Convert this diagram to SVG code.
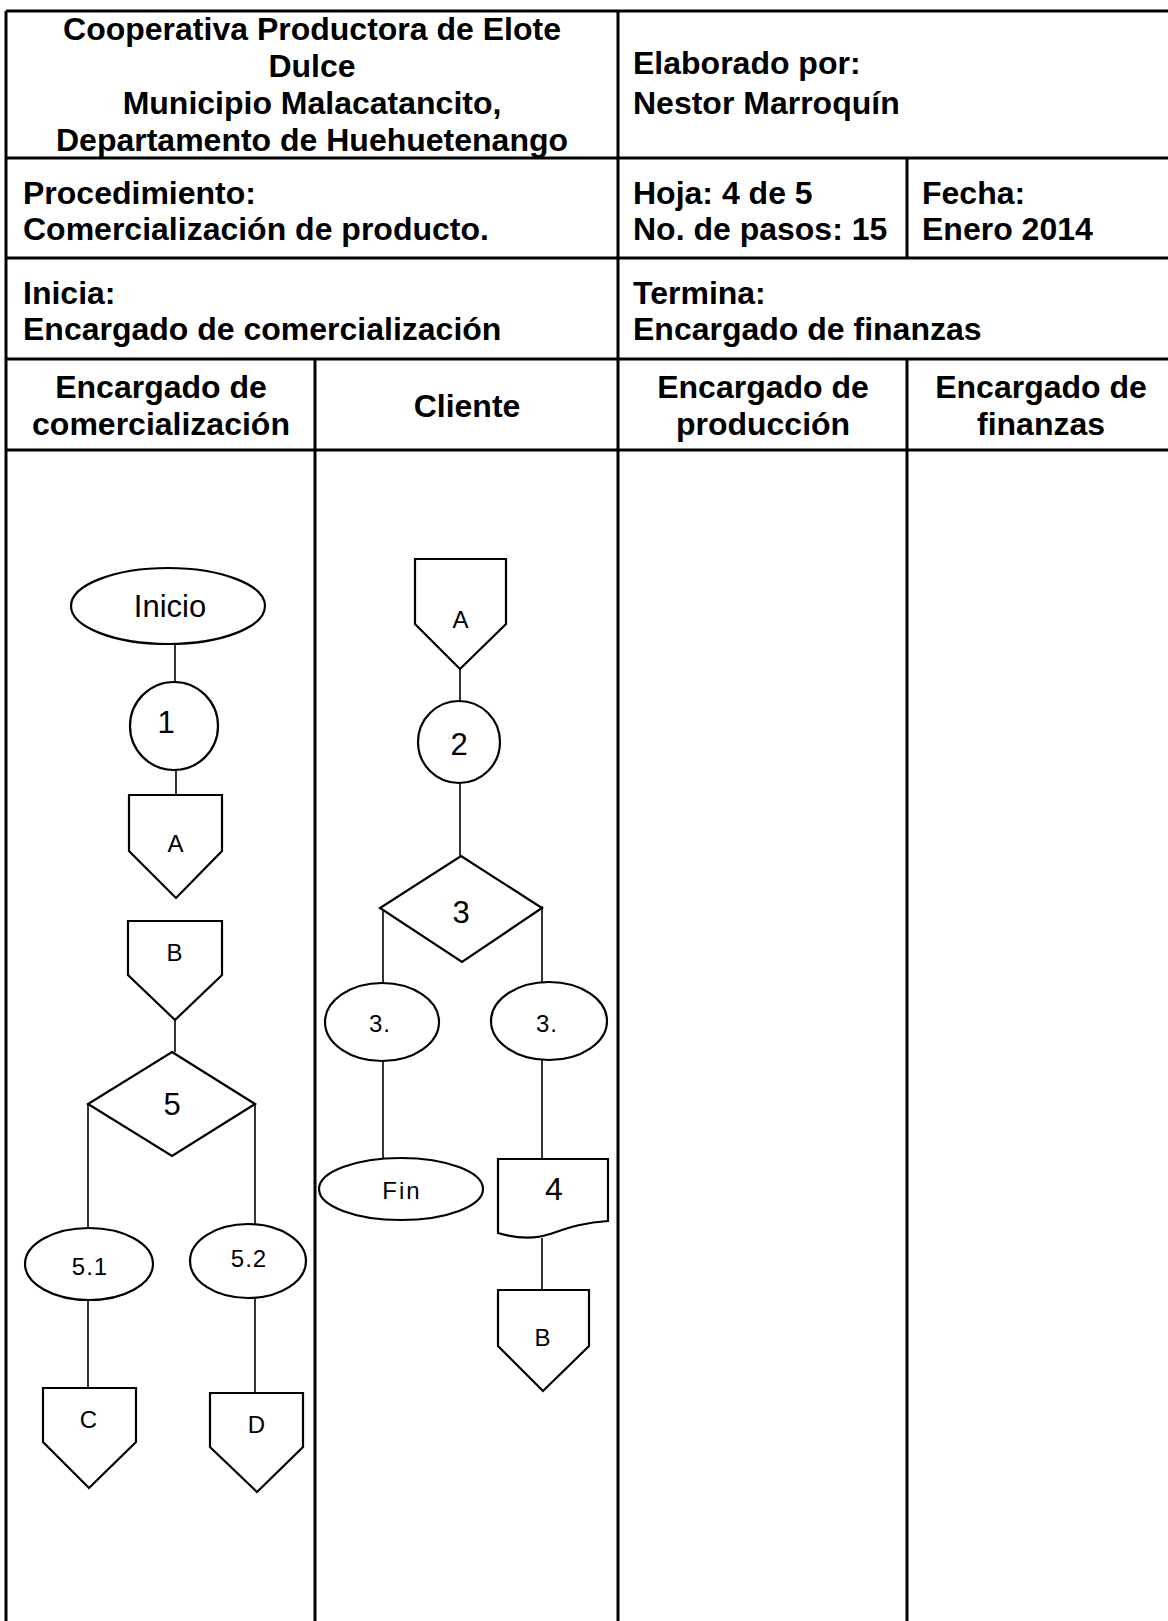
<svg xmlns="http://www.w3.org/2000/svg" width="1168" height="1621" viewBox="0 0 1168 1621">
  <style>
    .grid { stroke: #000; stroke-width: 3; fill: none; }
    .hd { font-family: "Liberation Sans", Arial, sans-serif; font-weight: bold; font-size: 32px; fill: #000; }
    .mid { text-anchor: middle; }
    .shape { fill: #fff; stroke: #000; stroke-width: 2.2; }
    .edge { stroke: #000; stroke-width: 1.6; fill: none; }
    .big { font-family: "Liberation Sans", Arial, sans-serif; font-size: 31px; fill: #000; text-anchor: middle; dominant-baseline: central; }
    .small { font-family: "Liberation Sans", Arial, sans-serif; font-size: 24px; fill: #000; text-anchor: middle; dominant-baseline: central; letter-spacing: 1px; }
  </style>
  <rect width="1168" height="1621" fill="#fff"/>

  <!-- form grid -->
  <g id="grid" class="grid">
    <line x1="6" y1="11" x2="1168" y2="11"/>
    <line x1="6" y1="11" x2="6" y2="1621"/>
    <line x1="618" y1="11" x2="618" y2="1621"/>
    <line x1="6" y1="158" x2="1168" y2="158"/>
    <line x1="6" y1="258" x2="1168" y2="258"/>
    <line x1="6" y1="359" x2="1168" y2="359"/>
    <line x1="6" y1="450" x2="1168" y2="450"/>
    <line x1="907" y1="158" x2="907" y2="258"/>
    <line x1="907" y1="359" x2="907" y2="1621"/>
    <line x1="315" y1="359" x2="315" y2="1621"/>
  </g>

  <!-- header texts -->
  <g id="header">
    <text class="hd mid" x="312" y="40">Cooperativa Productora de Elote</text>
    <text class="hd mid" x="312" y="77">Dulce</text>
    <text class="hd mid" x="312" y="114">Municipio Malacatancito,</text>
    <text class="hd mid" x="312" y="151">Departamento de Huehuetenango</text>
    <text class="hd" x="633" y="74">Elaborado por:</text>
    <text class="hd" x="633" y="114">Nestor Marroquín</text>
    <text class="hd" x="23" y="204">Procedimiento:</text>
    <text class="hd" x="23" y="240">Comercialización de producto.</text>
    <text class="hd" x="633" y="204">Hoja: 4 de 5</text>
    <text class="hd" x="633" y="240">No. de pasos: 15</text>
    <text class="hd" x="922" y="204">Fecha:</text>
    <text class="hd" x="922" y="240">Enero 2014</text>
    <text class="hd" x="23" y="304">Inicia:</text>
    <text class="hd" x="23" y="340">Encargado de comercialización</text>
    <text class="hd" x="633" y="304">Termina:</text>
    <text class="hd" x="633" y="340">Encargado de finanzas</text>
  </g>

  <!-- lane headers -->
  <g id="lanes">
    <text class="hd mid" x="161" y="398">Encargado de</text>
    <text class="hd mid" x="161" y="435">comercialización</text>
    <text class="hd mid" x="467" y="417">Cliente</text>
    <text class="hd mid" x="763" y="398">Encargado de</text>
    <text class="hd mid" x="763" y="435">producción</text>
    <text class="hd mid" x="1041" y="398">Encargado de</text>
    <text class="hd mid" x="1041" y="435">finanzas</text>
  </g>

  <!-- connectors -->
  <g id="connectors" class="edge">
    <line x1="175" y1="644" x2="175" y2="688"/>
    <line x1="176" y1="762" x2="176" y2="795"/>
    <line x1="175" y1="1020" x2="175" y2="1052"/>
    <line x1="88" y1="1104" x2="88" y2="1228"/>
    <line x1="255" y1="1104" x2="255" y2="1224"/>
    <line x1="88" y1="1300" x2="88" y2="1388"/>
    <line x1="255" y1="1298" x2="255" y2="1393"/>
    <line x1="460" y1="669" x2="460" y2="701"/>
    <line x1="460" y1="783" x2="460" y2="856"/>
    <line x1="383" y1="908" x2="383" y2="983"/>
    <line x1="542" y1="906" x2="542" y2="983"/>
    <line x1="383" y1="1061" x2="383" y2="1158"/>
    <line x1="542" y1="1060" x2="542" y2="1159"/>
    <line x1="542" y1="1238" x2="542" y2="1290"/>
  </g>

  <!-- Encargado de comercializacion lane -->
  <g id="n-inicio">
    <ellipse class="shape" cx="168" cy="606" rx="97" ry="38"/>
    <text class="big" x="170" y="606">Inicio</text>
  </g>
  <g id="n-1">
    <circle class="shape" cx="174" cy="726" r="44"/>
    <text class="big" x="166" y="722">1</text>
  </g>
  <g id="n-offA">
    <path class="shape" d="M129,795 H222 V851 L176,898 L129,851 Z"/>
    <text class="small" x="176" y="843">A</text>
  </g>
  <g id="n-offB">
    <path class="shape" d="M128,921 H222 V975 L175,1020 L128,975 Z"/>
    <text class="small" x="175" y="952">B</text>
  </g>
  <g id="n-5">
    <path class="shape" d="M172,1052 L255,1104 L172,1156 L88,1104 Z"/>
    <text class="big" x="172" y="1104">5</text>
  </g>
  <g id="n-5-1">
    <ellipse class="shape" cx="89" cy="1264" rx="64" ry="36"/>
    <text class="small" x="90" y="1266">5.1</text>
  </g>
  <g id="n-5-2">
    <ellipse class="shape" cx="248" cy="1261" rx="58" ry="37"/>
    <text class="small" x="249" y="1258">5.2</text>
  </g>
  <g id="n-offC">
    <path class="shape" d="M43,1388 H136 V1442 L89,1488 L43,1442 Z"/>
    <text class="small" x="89" y="1419">C</text>
  </g>
  <g id="n-offD">
    <path class="shape" d="M210,1393 H303 V1447 L257,1492 L210,1447 Z"/>
    <text class="small" x="257" y="1424">D</text>
  </g>

  <!-- Cliente lane -->
  <g id="n-offA2">
    <path class="shape" d="M415,559 H506 V624 L460,669 L415,624 Z"/>
    <text class="small" x="461" y="619">A</text>
  </g>
  <g id="n-2">
    <circle class="shape" cx="459" cy="742" r="41"/>
    <text class="big" x="459" y="744">2</text>
  </g>
  <g id="n-3">
    <path class="shape" d="M461,856 L542,908 L462,962 L380,908 Z"/>
    <text class="big" x="461" y="912">3</text>
  </g>
  <g id="n-3a">
    <ellipse class="shape" cx="382" cy="1022" rx="57" ry="39"/>
    <text class="small" x="380" y="1023">3.</text>
  </g>
  <g id="n-3b">
    <ellipse class="shape" cx="549" cy="1021" rx="58" ry="39"/>
    <text class="small" x="547" y="1023">3.</text>
  </g>
  <g id="n-fin">
    <ellipse class="shape" cx="401" cy="1189" rx="82" ry="31"/>
    <text class="small" x="402" y="1190" style="letter-spacing:2px">Fin</text>
  </g>
  <g id="n-4">
    <path class="shape" d="M498,1159 H608 V1221 C585,1222 568,1228 550,1234 C532,1240 515,1238 498,1233 Z"/>
    <text class="big" x="554" y="1189" style="font-size:32px">4</text>
  </g>
  <g id="n-offB2">
    <path class="shape" d="M498,1290 H589 V1346 L543,1391 L498,1346 Z"/>
    <text class="small" x="543" y="1337">B</text>
  </g>
</svg>
